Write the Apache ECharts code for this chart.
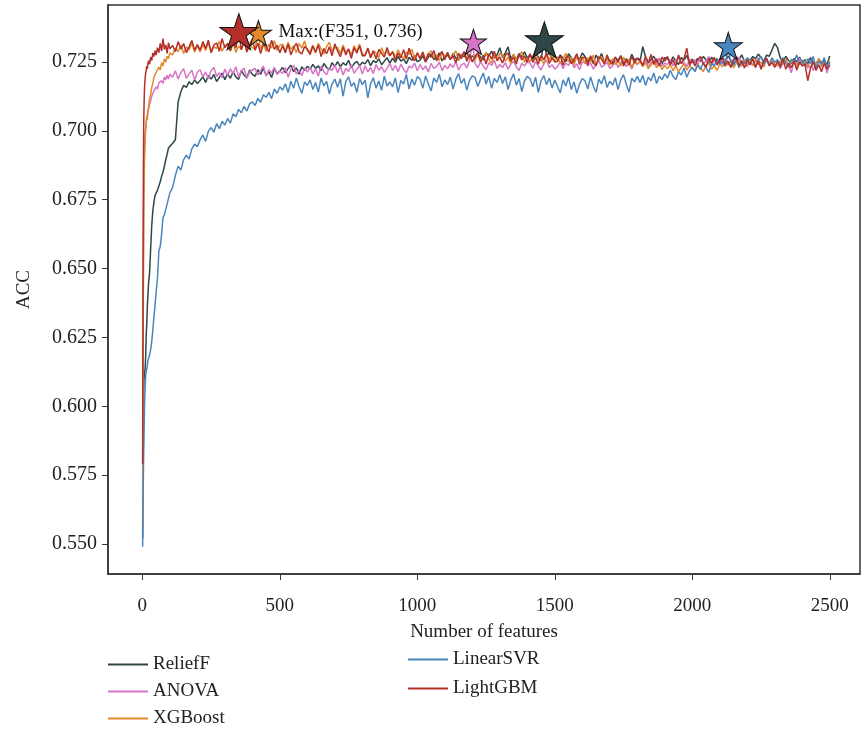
<!DOCTYPE html>
<html>
<head>
<meta charset="utf-8">
<title>ACC vs number of features</title>
<script src="https://cdn.jsdelivr.net/npm/echarts@6/dist/echarts.min.js"></script>
<style>
  html, body { margin: 0; padding: 0; background: #fff; }
  #main { width: 861px; height: 735px; }
</style>
</head>
<body>
<div id="main"></div>
<script>
// number of features (x)
const features = [
  1, 2, 3, 4, 5, 6, 7, 8, 10, 12, 14, 16, 18, 20, 23, 26, 30, 34, 38, 42, 46, 50, 55, 60, 65, 70, 75, 80, 85, 90, 95, 100,
  110, 120, 130, 140, 150, 160, 170, 180, 190, 200,
  210, 220, 230, 240, 250, 260, 270, 280, 290, 300,
  310, 320, 330, 340, 350, 360, 370, 380, 390, 400,
  410, 420, 430, 440, 450, 460, 470, 480, 490, 500,
  510, 520, 530, 540, 550, 560, 570, 580, 590, 600,
  610, 620, 630, 640, 650, 660, 670, 680, 690, 700,
  710, 720, 730, 740, 750, 760, 770, 780, 790, 800,
  810, 820, 830, 840, 850, 860, 870, 880, 890, 900,
  910, 920, 930, 940, 950, 960, 970, 980, 990, 1000,
  1010, 1020, 1030, 1040, 1050, 1060, 1070, 1080, 1090, 1100,
  1110, 1120, 1130, 1140, 1150, 1160, 1170, 1180, 1190, 1200,
  1210, 1220, 1230, 1240, 1250, 1260, 1270, 1280, 1290, 1300,
  1310, 1320, 1330, 1340, 1350, 1360, 1370, 1380, 1390, 1400,
  1410, 1420, 1430, 1440, 1450, 1460, 1470, 1480, 1490, 1500,
  1510, 1520, 1530, 1540, 1550, 1560, 1570, 1580, 1590, 1600,
  1610, 1620, 1630, 1640, 1650, 1660, 1670, 1680, 1690, 1700,
  1710, 1720, 1730, 1740, 1750, 1760, 1770, 1780, 1790, 1800,
  1810, 1820, 1830, 1840, 1850, 1860, 1870, 1880, 1890, 1900,
  1910, 1920, 1930, 1940, 1950, 1960, 1970, 1980, 1990, 2000,
  2010, 2020, 2030, 2040, 2050, 2060, 2070, 2080, 2090, 2100,
  2110, 2120, 2130, 2140, 2150, 2160, 2170, 2180, 2190, 2200,
  2210, 2220, 2230, 2240, 2250, 2260, 2270, 2280, 2290, 2300,
  2310, 2320, 2330, 2340, 2350, 2360, 2370, 2380, 2390, 2400,
  2410, 2420, 2430, 2440, 2450, 2460, 2470, 2480, 2490, 2500
];

const reliefF = [
  0.552, 0.572, 0.590, 0.601, 0.607, 0.610, 0.611, 0.6125, 0.6135, 0.618, 0.626, 0.630, 0.636, 0.640, 0.6455, 0.648,
  0.657, 0.6655, 0.671, 0.674, 0.6765, 0.677, 0.6785, 0.680, 0.6815, 0.6835, 0.685, 0.6872, 0.6895, 0.6915, 0.6938, 0.6935,
  0.6955, 0.6968, 0.7105, 0.7142, 0.7165, 0.7158, 0.7178, 0.7168, 0.7185, 0.7172,
  0.7183, 0.7197, 0.7176, 0.7201, 0.7188, 0.7205, 0.7179, 0.7194, 0.7210, 0.7186,
  0.7208, 0.7191, 0.7214, 0.7196, 0.7187, 0.7219, 0.7202, 0.7193, 0.7221, 0.7205,
  0.7198, 0.7222, 0.7205, 0.7228, 0.7201, 0.7215, 0.7194, 0.7226, 0.7209, 0.7217,
  0.7230, 0.7211, 0.7226, 0.7238, 0.7215, 0.7229, 0.7206, 0.7233, 0.7219, 0.7235,
  0.7224, 0.7241, 0.7227, 0.7236, 0.7218, 0.7245, 0.7230, 0.7222, 0.7248, 0.7233,
  0.7251, 0.7233, 0.7247, 0.7238, 0.7256, 0.7229, 0.7244, 0.7252, 0.7236, 0.7249,
  0.7243, 0.7259, 0.7237, 0.7255, 0.7248, 0.7262, 0.7240, 0.7253, 0.7266, 0.7245,
  0.7264, 0.7249, 0.7270, 0.7253, 0.7261, 0.7244, 0.7267, 0.7256, 0.7273, 0.7251,
  0.7257, 0.7272, 0.7250, 0.7268, 0.7279, 0.7259, 0.7266, 0.7283, 0.7254, 0.7270,
  0.7275, 0.7260, 0.7281, 0.7264, 0.7257, 0.7277, 0.7269, 0.7286, 0.7262, 0.7273,
  0.7263, 0.7280, 0.7268, 0.7257, 0.7284, 0.7271, 0.7290, 0.7265, 0.7276, 0.7302,
  0.7266, 0.7283, 0.7305, 0.7262, 0.7276, 0.7258, 0.7281, 0.7269, 0.7287, 0.7264,
  0.7277, 0.7260, 0.7285, 0.7268, 0.7255, 0.7330, 0.7272, 0.7284, 0.7259, 0.7275,
  0.7258, 0.7276, 0.7263, 0.7251, 0.7280, 0.7266, 0.7247, 0.7272, 0.7259, 0.7283,
  0.7270, 0.7252, 0.7266, 0.7245, 0.7275, 0.7258, 0.7281, 0.7249, 0.7263, 0.7256,
  0.7249, 0.7267, 0.7255, 0.7273, 0.7244, 0.7262, 0.7251, 0.7278, 0.7257, 0.7264,
  0.7252, 0.7306, 0.7268, 0.7247, 0.7259, 0.7271, 0.7250, 0.7263, 0.7244, 0.7266,
  0.7262, 0.7248, 0.7269, 0.7253, 0.7241, 0.7266, 0.7257, 0.7274, 0.7246, 0.7260,
  0.7249, 0.7263, 0.7252, 0.7270, 0.7258, 0.7243, 0.7267, 0.7254, 0.7261, 0.7248,
  0.7265, 0.7251, 0.7272, 0.7256, 0.7245, 0.7268, 0.7259, 0.7276, 0.7250, 0.7263,
  0.7255, 0.7270, 0.7262, 0.7279, 0.7266, 0.7252, 0.7275, 0.7271, 0.7294, 0.7318,
  0.7302, 0.7265, 0.7249, 0.7271, 0.7256, 0.7244, 0.7263, 0.7250, 0.7268, 0.7247,
  0.7259, 0.7243, 0.7266, 0.7250, 0.7238, 0.7261, 0.7247, 0.7255, 0.7240, 0.7272
];

const anova = [
  0.565, 0.600, 0.635, 0.660, 0.675, 0.684, 0.690, 0.694, 0.698, 0.701, 0.703, 0.7045, 0.7058, 0.7068, 0.708, 0.7095,
  0.7108, 0.7125, 0.7118, 0.7145, 0.7138, 0.716, 0.7152, 0.7175, 0.7168, 0.7182, 0.7172, 0.7195, 0.7185, 0.7202, 0.7188, 0.7205,
  0.7195, 0.7218, 0.7188, 0.7212, 0.7226, 0.7191, 0.7207, 0.7220, 0.7185, 0.7213,
  0.7222, 0.7196, 0.7214, 0.7189, 0.7219, 0.7230, 0.7198, 0.7211, 0.7193, 0.7224,
  0.7201, 0.7225, 0.7207, 0.7233, 0.7196, 0.7218, 0.7228, 0.7190, 0.7215, 0.7221,
  0.7227, 0.7203, 0.7219, 0.7236, 0.7198, 0.7222, 0.7210, 0.7231, 0.7205, 0.7217,
  0.7209, 0.7230, 0.7195, 0.7224, 0.7238, 0.7206, 0.7221, 0.7200, 0.7228, 0.7213,
  0.7232, 0.7207, 0.7225, 0.7199, 0.7235, 0.7215, 0.7204, 0.7229, 0.7219, 0.7240,
  0.7211, 0.7234, 0.7203, 0.7227, 0.7216, 0.7240, 0.7209, 0.7224, 0.7237, 0.7206,
  0.7236, 0.7214, 0.7230, 0.7208, 0.7241, 0.7220, 0.7233, 0.7212, 0.7228, 0.7245,
  0.7219, 0.7238, 0.7215, 0.7242, 0.7224, 0.7210, 0.7235, 0.7229, 0.7246, 0.7218,
  0.7241, 0.7222, 0.7236, 0.7214, 0.7245, 0.7227, 0.7233, 0.7250, 0.7219, 0.7238,
  0.7225, 0.7243, 0.7230, 0.7252, 0.7221, 0.7239, 0.7246, 0.7228, 0.7255, 0.7322,
  0.7244, 0.7229, 0.7251, 0.7235, 0.7222, 0.7247, 0.7238, 0.7256, 0.7226, 0.7241,
  0.7230, 0.7248, 0.7224, 0.7242, 0.7253, 0.7233, 0.7219, 0.7245, 0.7236, 0.7250,
  0.7246, 0.7227, 0.7252, 0.7235, 0.7221, 0.7244, 0.7257, 0.7230, 0.7240, 0.7224,
  0.7233, 0.7251, 0.7226, 0.7246, 0.7238, 0.7258, 0.7229, 0.7243, 0.7222, 0.7249,
  0.7252, 0.7235, 0.7247, 0.7224, 0.7241, 0.7256, 0.7231, 0.7238, 0.7250, 0.7227,
  0.7236, 0.7255, 0.7230, 0.7248, 0.7262, 0.7234, 0.7245, 0.7225, 0.7251, 0.7240,
  0.7253, 0.7238, 0.7260, 0.7232, 0.7249, 0.7257, 0.7240, 0.7265, 0.7235, 0.7246,
  0.7241, 0.7259, 0.7236, 0.7254, 0.7268, 0.7244, 0.7250, 0.7233, 0.7262, 0.7247,
  0.7258, 0.7239, 0.7264, 0.7245, 0.7253, 0.7270, 0.7236, 0.7256, 0.7247, 0.7261,
  0.7242, 0.7263, 0.7251, 0.7235, 0.7259, 0.7246, 0.7268, 0.7240, 0.7255, 0.7233,
  0.7257, 0.7238, 0.7252, 0.7266, 0.7229, 0.7249, 0.7262, 0.7243, 0.7255, 0.7231,
  0.7253, 0.7226, 0.7248, 0.7260, 0.7237, 0.7211, 0.7252, 0.7240, 0.7264, 0.7235,
  0.7248, 0.7228, 0.7256, 0.7219, 0.7243, 0.7262, 0.7232, 0.7250, 0.7210, 0.7245
];

const xgboost = [
  0.556, 0.590, 0.625, 0.650, 0.667, 0.678, 0.686, 0.691, 0.697, 0.701, 0.703, 0.7055, 0.704, 0.707, 0.709, 0.7115,
  0.713, 0.7158, 0.7172, 0.7195, 0.7188, 0.7212, 0.7205, 0.7232, 0.7221, 0.7248, 0.7236, 0.7262, 0.7249, 0.7271, 0.7262, 0.7283,
  0.7276, 0.7301, 0.7288, 0.7312, 0.7281, 0.7305, 0.7294, 0.7318, 0.7286, 0.7309,
  0.7287, 0.7314, 0.7292, 0.7321, 0.7283, 0.7306, 0.7299, 0.7326, 0.7289, 0.7310,
  0.7313, 0.7290, 0.7318, 0.7285, 0.7308, 0.7296, 0.7324, 0.7291, 0.7311, 0.7303,
  0.7294, 0.7355, 0.7297, 0.7319, 0.7288, 0.7315, 0.7301, 0.7327, 0.7292, 0.7310,
  0.7315, 0.7289, 0.7322, 0.7296, 0.7308, 0.7284, 0.7317, 0.7300, 0.7326, 0.7291,
  0.7287, 0.7311, 0.7283, 0.7318, 0.7298, 0.7279, 0.7306, 0.7322, 0.7290, 0.7302,
  0.7303, 0.7281, 0.7312, 0.7285, 0.7296, 0.7276, 0.7309, 0.7288, 0.7315, 0.7280,
  0.7275, 0.7298, 0.7270, 0.7291, 0.7283, 0.7266, 0.7302, 0.7279, 0.7288, 0.7272,
  0.7289, 0.7268, 0.7294, 0.7273, 0.7262, 0.7286, 0.7278, 0.7296, 0.7265, 0.7281,
  0.7264, 0.7287, 0.7259, 0.7280, 0.7291, 0.7266, 0.7276, 0.7255, 0.7284, 0.7270,
  0.7282, 0.7261, 0.7275, 0.7290, 0.7257, 0.7271, 0.7285, 0.7263, 0.7279, 0.7254,
  0.7258, 0.7277, 0.7250, 0.7270, 0.7284, 0.7259, 0.7246, 0.7273, 0.7262, 0.7281,
  0.7274, 0.7253, 0.7268, 0.7245, 0.7279, 0.7257, 0.7270, 0.7288, 0.7249, 0.7265,
  0.7251, 0.7271, 0.7285, 0.7256, 0.7263, 0.7242, 0.7276, 0.7258, 0.7280, 0.7249,
  0.7269, 0.7246, 0.7262, 0.7281, 0.7250, 0.7265, 0.7239, 0.7272, 0.7255, 0.7268,
  0.7244, 0.7266, 0.7251, 0.7275, 0.7240, 0.7259, 0.7270, 0.7247, 0.7262, 0.7238,
  0.7262, 0.7241, 0.7256, 0.7235, 0.7268, 0.7247, 0.7259, 0.7230, 0.7254, 0.7243,
  0.7251, 0.7233, 0.7248, 0.7226, 0.7240, 0.7255, 0.7229, 0.7246, 0.7222, 0.7238,
  0.7225, 0.7241, 0.7218, 0.7236, 0.7214, 0.7230, 0.7244, 0.7221, 0.7235, 0.7227,
  0.7220, 0.7242, 0.7228, 0.7215, 0.7239, 0.7247, 0.7224, 0.7236, 0.7219, 0.7244,
  0.7233, 0.7252, 0.7238, 0.7258, 0.7229, 0.7246, 0.7255, 0.7235, 0.7261, 0.7240,
  0.7256, 0.7237, 0.7262, 0.7241, 0.7250, 0.7232, 0.7259, 0.7244, 0.7265, 0.7239,
  0.7236, 0.7254, 0.7241, 0.7263, 0.7230, 0.7249, 0.7257, 0.7234, 0.7251, 0.7242,
  0.7255, 0.7238, 0.7229, 0.7250, 0.7243, 0.7261, 0.7235, 0.7247, 0.7232, 0.7252
];

const linearSVR = [
  0.549, 0.560, 0.570, 0.578, 0.584, 0.589, 0.595, 0.601, 0.607, 0.611, 0.6125, 0.613, 0.6145, 0.6165, 0.617, 0.6185,
  0.6205, 0.6235, 0.6275, 0.6325, 0.6365, 0.6415, 0.6465, 0.6565, 0.658, 0.6625, 0.6685, 0.6695, 0.6715, 0.6735, 0.6755, 0.6775,
  0.6795, 0.6838, 0.6872, 0.6858, 0.6895, 0.6912, 0.6898, 0.6935, 0.6952, 0.6942,
  0.6968, 0.6985, 0.6962, 0.6998, 0.7012, 0.6995, 0.7026, 0.7008, 0.7035, 0.7021,
  0.7045, 0.7028, 0.7062, 0.7051, 0.7078, 0.7066, 0.7089, 0.7072, 0.7098, 0.7105,
  0.7092, 0.7118, 0.7104, 0.7131, 0.7122, 0.7140, 0.7117, 0.7152, 0.7136, 0.7160,
  0.7148, 0.7171, 0.7139, 0.7180, 0.7155, 0.7192, 0.7160, 0.7136, 0.7178, 0.7165,
  0.7185, 0.7150, 0.7176, 0.7141, 0.7192, 0.7163, 0.7180, 0.7134, 0.7171, 0.7188,
  0.7158, 0.7189, 0.7126, 0.7180, 0.7196, 0.7162, 0.7175, 0.7140, 0.7190, 0.7168,
  0.7184, 0.7120, 0.7170, 0.7193, 0.7155, 0.7181, 0.7147, 0.7199, 0.7163, 0.7178,
  0.7160, 0.7192, 0.7139, 0.7183, 0.7170, 0.7205, 0.7152, 0.7188, 0.7166, 0.7197,
  0.7188, 0.7155, 0.7199, 0.7170, 0.7145, 0.7192, 0.7176, 0.7206, 0.7160, 0.7185,
  0.7168, 0.7195, 0.7152, 0.7188, 0.7208, 0.7172, 0.7190, 0.7148, 0.7183, 0.7200,
  0.7194, 0.7161, 0.7187, 0.7210, 0.7170, 0.7198, 0.7155, 0.7190, 0.7176, 0.7204,
  0.7172, 0.7196, 0.7150, 0.7185, 0.7207, 0.7166, 0.7190, 0.7143, 0.7182, 0.7198,
  0.7189, 0.7160, 0.7195, 0.7140, 0.7182, 0.7201, 0.7168, 0.7192, 0.7155, 0.7185,
  0.7160, 0.7138, 0.7185, 0.7163, 0.7195, 0.7150, 0.7178, 0.7136, 0.7170, 0.7190,
  0.7182, 0.7152, 0.7196, 0.7163, 0.7140, 0.7188, 0.7171, 0.7200, 0.7158, 0.7180,
  0.7166, 0.7193, 0.7150, 0.7186, 0.7204, 0.7169, 0.7140, 0.7191, 0.7178, 0.7198,
  0.7176, 0.7201, 0.7165, 0.7195, 0.7182, 0.7210, 0.7172, 0.7198, 0.7186, 0.7207,
  0.7192, 0.7220, 0.7198, 0.7186, 0.7214, 0.7203, 0.7228, 0.7195, 0.7218, 0.7230,
  0.7215, 0.7240, 0.7222, 0.7249, 0.7230, 0.7212, 0.7245, 0.7236, 0.7258, 0.7241,
  0.7252, 0.7234, 0.7308, 0.7248, 0.7238, 0.7260, 0.7229, 0.7255, 0.7243, 0.7266,
  0.7240, 0.7262, 0.7233, 0.7255, 0.7271, 0.7242, 0.7258, 0.7236, 0.7265, 0.7248,
  0.7259, 0.7238, 0.7266, 0.7245, 0.7232, 0.7260, 0.7251, 0.7276, 0.7241, 0.7257,
  0.7236, 0.7262, 0.7245, 0.7270, 0.7228, 0.7253, 0.7242, 0.7266, 0.7231, 0.7250
];

const lightGBM = [
  0.579, 0.628, 0.668, 0.692, 0.703, 0.709, 0.713, 0.716, 0.719, 0.721, 0.722, 0.7235, 0.7225, 0.7245, 0.7255, 0.7242,
  0.7268, 0.7255, 0.7282, 0.727, 0.7291, 0.7275, 0.7302, 0.7284, 0.7318, 0.729, 0.7335, 0.7296, 0.7312, 0.7281, 0.732, 0.7298,
  0.7310, 0.7288, 0.7324, 0.7297, 0.7317, 0.7284, 0.7305, 0.7328, 0.7293, 0.7313,
  0.7293, 0.7324, 0.7299, 0.7329, 0.7285, 0.7312, 0.7319, 0.7289, 0.7335, 0.7302,
  0.7318, 0.7291, 0.7329, 0.7300, 0.7360, 0.7294, 0.7326, 0.7286, 0.7314, 0.7333,
  0.7293, 0.7318, 0.7281, 0.7314, 0.7306, 0.7287, 0.7329, 0.7296, 0.7311, 0.7284,
  0.7309, 0.7284, 0.7315, 0.7276, 0.7301, 0.7318, 0.7287, 0.7279, 0.7306, 0.7297,
  0.7277, 0.7308, 0.7286, 0.7312, 0.7270, 0.7299, 0.7280, 0.7305, 0.7273, 0.7316,
  0.7290, 0.7269, 0.7304, 0.7276, 0.7298, 0.7263, 0.7302, 0.7282, 0.7309, 0.7273,
  0.7273, 0.7301, 0.7265, 0.7290, 0.7261, 0.7296, 0.7282, 0.7268, 0.7303, 0.7272,
  0.7287, 0.7257, 0.7282, 0.7265, 0.7295, 0.7261, 0.7300, 0.7270, 0.7254, 0.7284,
  0.7262, 0.7285, 0.7250, 0.7281, 0.7267, 0.7292, 0.7254, 0.7276, 0.7288, 0.7258,
  0.7285, 0.7259, 0.7272, 0.7247, 0.7282, 0.7262, 0.7288, 0.7253, 0.7277, 0.7250,
  0.7271, 0.7284, 0.7251, 0.7275, 0.7243, 0.7280, 0.7260, 0.7289, 0.7254, 0.7268,
  0.7246, 0.7274, 0.7283, 0.7253, 0.7267, 0.7243, 0.7278, 0.7258, 0.7273, 0.7249,
  0.7280, 0.7249, 0.7267, 0.7242, 0.7274, 0.7258, 0.7283, 0.7245, 0.7264, 0.7251,
  0.7252, 0.7275, 0.7238, 0.7267, 0.7271, 0.7244, 0.7261, 0.7280, 0.7241, 0.7266,
  0.7266, 0.7240, 0.7273, 0.7248, 0.7236, 0.7269, 0.7260, 0.7243, 0.7276, 0.7251,
  0.7242, 0.7268, 0.7249, 0.7272, 0.7235, 0.7260, 0.7239, 0.7271, 0.7246, 0.7264,
  0.7259, 0.7237, 0.7270, 0.7246, 0.7277, 0.7241, 0.7262, 0.7235, 0.7268, 0.7253,
  0.7270, 0.7240, 0.7258, 0.7235, 0.7276, 0.7244, 0.7262, 0.7300, 0.7237, 0.7257,
  0.7236, 0.7259, 0.7270, 0.7244, 0.7231, 0.7263, 0.7247, 0.7267, 0.7239, 0.7257,
  0.7263, 0.7238, 0.7252, 0.7230, 0.7259, 0.7269, 0.7235, 0.7254, 0.7228, 0.7257,
  0.7240, 0.7262, 0.7230, 0.7255, 0.7224, 0.7253, 0.7264, 0.7236, 0.7248, 0.7231,
  0.7252, 0.7232, 0.7260, 0.7224, 0.7245, 0.7229, 0.7254, 0.7221, 0.7249, 0.7236,
  0.7242, 0.7182, 0.7228, 0.7251, 0.7219, 0.7240, 0.7215, 0.7246, 0.7224, 0.7238
];

// best point of each method [features, ACC]
const reliefFMax = [1462, 0.733];
const anovaMax = [1204, 0.7323];
const xgboostMax = [422, 0.7355];
const linearSVRMax = [2131, 0.7308];
const lightGBMMax = [351, 0.736];

const xTicks = [0, 500, 1000, 1500, 2000, 2500];
const yTicks = [0.55, 0.575, 0.6, 0.625, 0.65, 0.675, 0.7, 0.725];

const FONT = "'Liberation Serif', 'DejaVu Serif', serif";
const STAR = "path://M50,0 L61.23,34.55 L97.55,34.55 L68.17,55.9 L79.39,90.45 L50,69.1 L20.61,90.45 L31.83,55.9 L2.45,34.55 L38.77,34.55 Z";

const colors = {
  ReliefF: "#2e4746",
  ANOVA: "#d774c8",
  XGBoost: "#e08a2c",
  LinearSVR: "#4a86be",
  LightGBM: "#b42f29",
};

function lineSeries(name, values) {
  return {
    name: name,
    type: "line",
    data: features.map((f, i) => [f, values[i]]),
    symbol: "none",
    showSymbol: false,
    lineStyle: { width: 1.5, color: colors[name] },
    itemStyle: { color: colors[name] },
    animation: false,
  };
}

function starSeries(name, point, size, label) {
  return {
    name: name + " max",
    type: "scatter",
    data: [point],
    symbol: STAR,
    symbolSize: size,
    itemStyle: { color: colors[name], borderColor: "#111", borderWidth: 1, opacity: 1 },
    label: label
      ? {
          show: true,
          position: "right",
          distance: 20,
          formatter: label,
          fontFamily: FONT,
          fontSize: 19,
          color: "#111",
        }
      : { show: false },
    z: 10,
    animation: false,
  };
}

// legend: plain line sample, no symbol
const legendBase = {
  orient: "vertical",
  padding: 0,
  icon: "rect",
  itemWidth: 40,
  itemHeight: 2,
  textStyle: { fontFamily: FONT, fontSize: 19, color: "#222" },
};

const options = {
  backgroundColor: "#fff",
  grid: {
    left: 108,
    right: 1,
    top: 5,
    bottom: 161,
    show: true,
    borderColor: "#333",
    borderWidth: 1.5,
  },
  legend: [
    Object.assign({}, legendBase, {
      data: ["ReliefF", "ANOVA", "XGBoost"],
      left: 108,
      top: 655,
      itemGap: 8,
    }),
    Object.assign({}, legendBase, {
      data: ["LinearSVR", "LightGBM"],
      left: 408,
      top: 650,
      itemGap: 10,
    }),
  ],
  xAxis: {
    type: "value",
    min: -125,
    max: 2610,
    name: "Number of features",
    nameLocation: "middle",
    nameGap: 49,
    nameTextStyle: { fontFamily: FONT, fontSize: 19, color: "#222" },
    axisLine: { show: true, onZero: false, lineStyle: { color: "#333", width: 1.5 } },
    axisTick: { show: true, length: 6, customValues: xTicks, lineStyle: { color: "#333" } },
    axisLabel: {
      customValues: xTicks,
      margin: 23,
      fontFamily: FONT,
      fontSize: 19,
      color: "#222",
      formatter: (v) => String(v),
    },
    splitLine: { show: false },
  },
  yAxis: {
    type: "value",
    min: 0.5391,
    max: 0.7457,
    name: "ACC",
    nameLocation: "middle",
    nameGap: 74,
    nameTextStyle: { fontFamily: FONT, fontSize: 19, color: "#222" },
    axisLine: { show: true, onZero: false, lineStyle: { color: "#333", width: 1.5 } },
    axisTick: { show: true, length: 6, customValues: yTicks, lineStyle: { color: "#333" } },
    axisLabel: {
      customValues: yTicks,
      margin: 11,
      fontFamily: FONT,
      fontSize: 20,
      color: "#222",
      formatter: (v) => v.toFixed(3),
    },
    splitLine: { show: false },
  },
  series: [
    lineSeries("ReliefF", reliefF),
    lineSeries("ANOVA", anova),
    lineSeries("XGBoost", xgboost),
    lineSeries("LinearSVR", linearSVR),
    lineSeries("LightGBM", lightGBM),
    starSeries("XGBoost", xgboostMax, [26, 25]),
    starSeries("ANOVA", anovaMax, [26, 25]),
    starSeries("ReliefF", reliefFMax, [38, 36]),
    starSeries("LinearSVR", linearSVRMax, [28, 27]),
    starSeries("LightGBM", lightGBMMax, [38, 36], "Max:(F351, 0.736)"),
  ],
};

const chart = echarts.init(document.getElementById("main"));
chart.setOption(options);
window.addEventListener("resize", () => chart.resize());
</script>
</body>
</html>
